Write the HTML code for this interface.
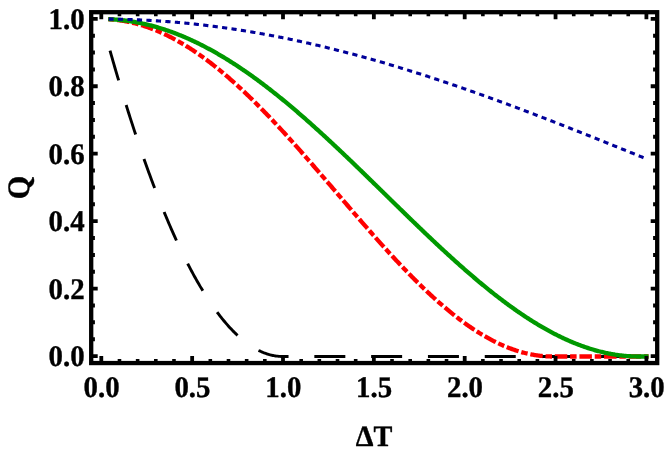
<!DOCTYPE html>
<html><head><meta charset="utf-8"><title>Chart</title>
<style>html,body{margin:0;padding:0;background:#fff;}body{width:664px;height:456px;overflow:hidden;font-family:"Liberation Serif",serif;}svg{display:block;will-change:transform}</style>
</head><body>
<svg width="664" height="456" viewBox="0 0 664 456">
<g fill="none">
<path d="M109.99,50.56 L110.38,51.95 L111.28,55.10 L112.17,58.22 L113.07,61.33 L113.96,64.43 L114.85,67.51 L115.75,70.57 L116.64,73.62 L117.53,76.65 L118.43,79.66 L119.32,82.66 L120.21,85.64 L121.11,88.60 L122.00,91.55 L122.89,94.49 L123.79,97.40 L124.68,100.30 L125.57,103.18 L126.47,106.05 L127.36,108.90 L128.25,111.74 L129.15,114.55 L130.04,117.35 L130.93,120.14 L131.83,122.91 L132.72,125.66 L133.61,128.40 L134.51,131.12 L135.40,133.82 L136.29,136.51 L137.19,139.18 L138.08,141.83 L138.97,144.47 L139.87,147.10 L140.76,149.70 L141.65,152.29 L142.55,154.86 L143.44,157.42 L144.33,159.96 L145.23,162.49 L146.12,164.99 L147.01,167.48 L147.91,169.96 L148.80,172.42 L149.69,174.86 L150.59,177.29 L151.48,179.70 L152.37,182.09 L153.27,184.47 L154.16,186.83 L155.05,189.18 L155.95,191.50 L156.84,193.82 L157.73,196.11 L158.63,198.39 L159.52,200.65 L160.41,202.90 L161.31,205.13 L162.20,207.35 L163.09,209.54 L163.99,211.73 L164.88,213.89 L165.77,216.04 L166.67,218.17 L167.56,220.29 L168.45,222.39 L169.35,224.47 L170.24,226.54 L171.13,228.59 L172.03,230.63 L172.92,232.64 L173.81,234.65 L174.71,236.63 L175.60,238.60 L176.49,240.56 L177.39,242.49 L178.28,244.41 L179.17,246.32 L180.07,248.20 L180.96,250.08 L181.85,251.93 L182.75,253.77 L183.64,255.59 L184.53,257.40 L185.43,259.19 L186.32,260.96 L187.21,262.72 L188.11,264.46 L189.00,266.19 L189.89,267.90 L190.79,269.59 L191.68,271.26 L192.57,272.92 L193.47,274.57 L194.36,276.19 L195.25,277.80 L196.15,279.40 L197.04,280.98 L197.93,282.54 L198.83,284.08 L199.72,285.61 L200.61,287.12 L201.51,288.62 L202.40,290.10 L203.29,291.57 L204.19,293.01 L205.08,294.44 L205.97,295.86 L206.87,297.26 L207.76,298.64 L208.65,300.01 L209.55,301.35 L210.44,302.69 L211.33,304.00 L212.23,305.31 L213.12,306.59 L214.01,307.86 L214.91,309.11 L215.80,310.34 L216.69,311.56 L217.59,312.77 L218.48,313.95 L219.37,315.12 L220.27,316.28 L221.16,317.41 L222.05,318.54 L222.95,319.64 L223.84,320.73 L224.73,321.80 L225.63,322.86 L226.52,323.90 L227.41,324.92 L228.31,325.93 L229.20,326.92 L230.10,327.89 L230.99,328.85 L231.88,329.79 L232.78,330.72 L233.67,331.63 L234.56,332.52 L235.46,333.39 L236.35,334.26 L237.24,335.10 L238.14,335.93 L239.03,336.74 L239.92,337.53 L240.82,338.31 L241.71,339.07 L242.60,339.82 L243.50,340.55 L244.39,341.26 L245.28,341.96 L246.18,342.64 L247.07,343.30 L247.96,343.95 L248.86,344.58 L249.75,345.20 L250.64,345.80 L251.54,346.38 L252.43,346.95 L253.32,347.50 L254.22,348.03 L255.11,348.55 L256.00,349.05 L256.90,349.53 L257.79,350.00 L258.68,350.46 L259.58,350.89 L260.47,351.31 L261.36,351.71 L262.26,352.10 L263.15,352.47 L264.04,352.83 L264.94,353.16 L265.83,353.49 L266.72,353.79 L267.62,354.08 L268.51,354.35 L269.40,354.61 L270.30,354.85 L271.19,355.07 L272.08,355.28 L272.98,355.47 L273.87,355.65 L274.76,355.81 L275.66,355.95 L276.55,356.07 L277.44,356.18 L278.34,356.28 L279.23,356.35 L280.12,356.42 L281.02,356.46 L281.91,356.49 L282.80,356.50 L283.70,356.50 L284.59,356.50 L285.48,356.50 L286.38,356.50 L287.27,356.50 L288.16,356.50 L289.06,356.50 L289.95,356.50 L290.84,356.50 L291.74,356.50 L292.63,356.50 L293.52,356.50 L294.42,356.50 L295.31,356.50 L296.20,356.50 L297.10,356.50 L297.99,356.50 L298.88,356.50 L299.78,356.50 L300.67,356.50 L301.56,356.50 L302.46,356.50 L303.35,356.50 L304.24,356.50 L305.14,356.50 L306.03,356.50 L306.92,356.50 L307.82,356.50 L308.71,356.50 L309.60,356.50 L310.50,356.50 L311.39,356.50 L312.28,356.50 L313.18,356.50 L314.07,356.50 L314.96,356.50 L315.86,356.50 L316.75,356.50 L317.64,356.50 L318.54,356.50 L319.43,356.50 L320.32,356.50 L321.22,356.50 L322.11,356.50 L323.00,356.50 L323.90,356.50 L324.79,356.50 L325.68,356.50 L326.58,356.50 L327.47,356.50 L328.36,356.50 L329.26,356.50 L330.15,356.50 L331.04,356.50 L331.94,356.50 L332.83,356.50 L333.72,356.50 L334.62,356.50 L335.51,356.50 L336.40,356.50 L337.30,356.50 L338.19,356.50 L339.08,356.50 L339.98,356.50 L340.87,356.50 L341.76,356.50 L342.66,356.50 L343.55,356.50 L344.44,356.50 L345.34,356.50 L346.23,356.50 L347.12,356.50 L348.02,356.50 L348.91,356.50 L349.81,356.50 L350.70,356.50 L351.59,356.50 L352.49,356.50 L353.38,356.50 L354.27,356.50 L355.17,356.50 L356.06,356.50 L356.95,356.50 L357.85,356.50 L358.74,356.50 L359.63,356.50 L360.53,356.50 L361.42,356.50 L362.31,356.50 L363.21,356.50 L364.10,356.50 L364.99,356.50 L365.89,356.50 L366.78,356.50 L367.67,356.50 L368.57,356.50 L369.46,356.50 L370.35,356.50 L371.25,356.50 L372.14,356.50 L373.03,356.50 L373.93,356.50 L374.82,356.50 L375.71,356.50 L376.61,356.50 L377.50,356.50 L378.39,356.50 L379.29,356.50 L380.18,356.50 L381.07,356.50 L381.97,356.50 L382.86,356.50 L383.75,356.50 L384.65,356.50 L385.54,356.50 L386.43,356.50 L387.33,356.50 L388.22,356.50 L389.11,356.50 L390.01,356.50 L390.90,356.50 L391.79,356.50 L392.69,356.50 L393.58,356.50 L394.47,356.50 L395.37,356.50 L396.26,356.50 L397.15,356.50 L398.05,356.50 L398.94,356.50 L399.83,356.50 L400.73,356.50 L401.62,356.50 L402.51,356.50 L403.41,356.50 L404.30,356.50 L405.19,356.50 L406.09,356.50 L406.98,356.50 L407.87,356.50 L408.77,356.50 L409.66,356.50 L410.55,356.50 L411.45,356.50 L412.34,356.50 L413.23,356.50 L414.13,356.50 L415.02,356.50 L415.91,356.50 L416.81,356.50 L417.70,356.50 L418.59,356.50 L419.49,356.50 L420.38,356.50 L421.27,356.50 L422.17,356.50 L423.06,356.50 L423.95,356.50 L424.85,356.50 L425.74,356.50 L426.63,356.50 L427.53,356.50 L428.42,356.50 L429.31,356.50 L430.21,356.50 L431.10,356.50 L431.99,356.50 L432.89,356.50 L433.78,356.50 L434.67,356.50 L435.57,356.50 L436.46,356.50 L437.35,356.50 L438.25,356.50 L439.14,356.50 L440.03,356.50 L440.93,356.50 L441.82,356.50 L442.71,356.50 L443.61,356.50 L444.50,356.50 L445.39,356.50 L446.29,356.50 L447.18,356.50 L448.07,356.50 L448.97,356.50 L449.86,356.50 L450.75,356.50 L451.65,356.50 L452.54,356.50 L453.43,356.50 L454.33,356.50 L455.22,356.50 L456.11,356.50 L457.01,356.50 L457.90,356.50 L458.79,356.50 L459.69,356.50 L460.58,356.50 L461.47,356.50 L462.37,356.50 L463.26,356.50 L464.15,356.50 L465.05,356.50 L465.94,356.50 L466.83,356.50 L467.73,356.50 L468.62,356.50 L469.52,356.50 L470.41,356.50 L471.30,356.50 L472.20,356.50 L473.09,356.50 L473.98,356.50 L474.88,356.50 L475.77,356.50 L476.66,356.50 L477.56,356.50 L478.45,356.50 L479.34,356.50 L480.24,356.50 L481.13,356.50 L482.02,356.50 L482.92,356.50 L483.81,356.50 L484.70,356.50 L485.60,356.50 L486.49,356.50 L487.38,356.50 L488.28,356.50 L489.17,356.50 L490.06,356.50 L490.96,356.50 L491.85,356.50 L492.74,356.50 L493.64,356.50 L494.53,356.50 L495.42,356.50 L496.32,356.50 L497.21,356.50 L498.10,356.50 L499.00,356.50 L499.89,356.50 L500.78,356.50 L501.68,356.50 L502.57,356.50 L503.46,356.50 L504.36,356.50 L505.25,356.50 L506.14,356.50 L507.04,356.50 L507.93,356.50 L508.82,356.50 L509.72,356.50 L510.61,356.50 L511.50,356.50 L512.40,356.50 L513.29,356.50 L514.18,356.50 L515.08,356.50 L515.97,356.50 L516.86,356.50 L517.76,356.50 L518.65,356.50 L519.54,356.50 L520.44,356.50 L521.33,356.50 L522.22,356.50 L523.12,356.50 L524.01,356.50 L524.90,356.50 L525.80,356.50 L526.69,356.50 L527.58,356.50 L528.48,356.50 L529.37,356.50 L530.26,356.50 L531.16,356.50 L532.05,356.50 L532.94,356.50 L533.84,356.50 L534.73,356.50 L535.62,356.50 L536.52,356.50 L537.41,356.50 L538.30,356.50 L539.20,356.50 L540.09,356.50 L540.98,356.50 L541.88,356.50 L542.77,356.50 L543.66,356.50 L544.56,356.50 L545.45,356.50 L546.34,356.50 L547.24,356.50 L548.13,356.50 L549.02,356.50 L549.92,356.50 L550.81,356.50 L551.70,356.50 L552.60,356.50 L553.49,356.50 L554.38,356.50 L555.28,356.50 L556.17,356.50 L557.06,356.50 L557.96,356.50 L558.85,356.50 L559.74,356.50 L560.64,356.50 L561.53,356.50 L562.42,356.50 L563.32,356.50 L564.21,356.50 L565.10,356.50 L566.00,356.50 L566.89,356.50 L567.78,356.50 L568.68,356.50 L569.57,356.50 L570.46,356.50 L571.36,356.50 L572.25,356.50 L573.14,356.50 L574.04,356.50 L574.93,356.50 L575.82,356.50 L576.72,356.50 L577.61,356.50 L578.50,356.50 L579.40,356.50 L580.29,356.50 L581.18,356.50 L582.08,356.50 L582.97,356.50 L583.86,356.50 L584.76,356.50 L585.65,356.50 L586.54,356.50 L587.44,356.50 L588.33,356.50 L589.23,356.50 L590.12,356.50 L591.01,356.50 L591.91,356.50 L592.80,356.50 L593.69,356.50 L594.59,356.50 L595.48,356.50 L596.37,356.50 L597.27,356.50 L598.16,356.50 L599.05,356.50 L599.95,356.50 L600.84,356.50 L601.73,356.50 L602.63,356.50 L603.52,356.50 L604.41,356.50 L605.31,356.50 L606.20,356.50 L607.09,356.50 L607.99,356.50 L608.88,356.50 L609.77,356.50 L610.67,356.50 L611.56,356.50 L612.45,356.50 L613.35,356.50 L614.24,356.50 L615.13,356.50 L616.03,356.50 L616.92,356.50 L617.81,356.50 L618.71,356.50 L619.60,356.50 L620.49,356.50 L621.39,356.50 L622.28,356.50 L623.17,356.50 L624.07,356.50 L624.96,356.50 L625.85,356.50 L626.75,356.50 L627.64,356.50 L628.53,356.50 L629.43,356.50 L630.32,356.50 L631.21,356.50 L632.11,356.50 L633.00,356.50 L633.89,356.50 L634.79,356.50 L635.68,356.50 L636.57,356.50 L637.47,356.50 L638.36,356.50 L639.25,356.50 L640.15,356.50 L641.04,356.50 L641.93,356.50 L642.83,356.50 L643.72,356.50 L644.61,356.50 L645.51,356.50 L646.40,356.50 L647.85,356.50" stroke="#000" stroke-width="2.9" stroke-dasharray="31 25.8" stroke-dashoffset="0"/>
<path d="M108.24,19.21 L110.38,19.37 L111.28,19.43 L112.17,19.50 L113.07,19.58 L113.96,19.66 L114.85,19.75 L115.75,19.85 L116.64,19.95 L117.53,20.06 L118.43,20.17 L119.32,20.29 L120.21,20.42 L121.11,20.55 L122.00,20.69 L122.89,20.83 L123.79,20.98 L124.68,21.14 L125.57,21.30 L126.47,21.47 L127.36,21.65 L128.25,21.83 L129.15,22.01 L130.04,22.21 L130.93,22.40 L131.83,22.61 L132.72,22.82 L133.61,23.04 L134.51,23.26 L135.40,23.49 L136.29,23.72 L137.19,23.96 L138.08,24.21 L138.97,24.46 L139.87,24.72 L140.76,24.98 L141.65,25.25 L142.55,25.53 L143.44,25.81 L144.33,26.10 L145.23,26.39 L146.12,26.69 L147.01,27.00 L147.91,27.31 L148.80,27.63 L149.69,27.95 L150.59,28.28 L151.48,28.61 L152.37,28.95 L153.27,29.30 L154.16,29.65 L155.05,30.01 L155.95,30.37 L156.84,30.74 L157.73,31.12 L158.63,31.50 L159.52,31.89 L160.41,32.28 L161.31,32.68 L162.20,33.08 L163.09,33.49 L163.99,33.90 L164.88,34.32 L165.77,34.75 L166.67,35.18 L167.56,35.62 L168.45,36.06 L169.35,36.51 L170.24,36.96 L171.13,37.42 L172.03,37.89 L172.92,38.36 L173.81,38.83 L174.71,39.31 L175.60,39.80 L176.49,40.29 L177.39,40.79 L178.28,41.29 L179.17,41.80 L180.07,42.31 L180.96,42.83 L181.85,43.36 L182.75,43.89 L183.64,44.42 L184.53,44.96 L185.43,45.51 L186.32,46.06 L187.21,46.61 L188.11,47.18 L189.00,47.74 L189.89,48.31 L190.79,48.89 L191.68,49.47 L192.57,50.06 L193.47,50.65 L194.36,51.25 L195.25,51.85 L196.15,52.46 L197.04,53.07 L197.93,53.68 L198.83,54.31 L199.72,54.93 L200.61,55.56 L201.51,56.20 L202.40,56.84 L203.29,57.49 L204.19,58.14 L205.08,58.80 L205.97,59.46 L206.87,60.12 L207.76,60.79 L208.65,61.47 L209.55,62.15 L210.44,62.83 L211.33,63.52 L212.23,64.21 L213.12,64.91 L214.01,65.61 L214.91,66.32 L215.80,67.03 L216.69,67.75 L217.59,68.47 L218.48,69.20 L219.37,69.93 L220.27,70.66 L221.16,71.40 L222.05,72.14 L222.95,72.89 L223.84,73.64 L224.73,74.40 L225.63,75.16 L226.52,75.92 L227.41,76.69 L228.31,77.46 L229.20,78.24 L230.10,79.02 L230.99,79.80 L231.88,80.59 L232.78,81.39 L233.67,82.18 L234.56,82.98 L235.46,83.79 L236.35,84.60 L237.24,85.41 L238.14,86.23 L239.03,87.05 L239.92,87.87 L240.82,88.70 L241.71,89.53 L242.60,90.37 L243.50,91.21 L244.39,92.05 L245.28,92.90 L246.18,93.75 L247.07,94.60 L247.96,95.46 L248.86,96.32 L249.75,97.18 L250.64,98.05 L251.54,98.92 L252.43,99.80 L253.32,100.68 L254.22,101.56 L255.11,102.44 L256.00,103.33 L256.90,104.22 L257.79,105.12 L258.68,106.01 L259.58,106.92 L260.47,107.82 L261.36,108.73 L262.26,109.64 L263.15,110.55 L264.04,111.47 L264.94,112.39 L265.83,113.31 L266.72,114.23 L267.62,115.16 L268.51,116.09 L269.40,117.02 L270.30,117.96 L271.19,118.90 L272.08,119.84 L272.98,120.79 L273.87,121.73 L274.76,122.68 L275.66,123.63 L276.55,124.59 L277.44,125.55 L278.34,126.51 L279.23,127.47 L280.12,128.43 L281.02,129.40 L281.91,130.37 L282.80,131.34 L283.70,132.32 L284.59,133.29 L285.48,134.27 L286.38,135.25 L287.27,136.23 L288.16,137.22 L289.06,138.20 L289.95,139.19 L290.84,140.18 L291.74,141.18 L292.63,142.17 L293.52,143.17 L294.42,144.17 L295.31,145.17 L296.20,146.17 L297.10,147.17 L297.99,148.18 L298.88,149.18 L299.78,150.19 L300.67,151.20 L301.56,152.21 L302.46,153.23 L303.35,154.24 L304.24,155.26 L305.14,156.27 L306.03,157.29 L306.92,158.31 L307.82,159.34 L308.71,160.36 L309.60,161.38 L310.50,162.41 L311.39,163.43 L312.28,164.46 L313.18,165.49 L314.07,166.52 L314.96,167.55 L315.86,168.58 L316.75,169.61 L317.64,170.65 L318.54,171.68 L319.43,172.72 L320.32,173.75 L321.22,174.79 L322.11,175.82 L323.00,176.86 L323.90,177.90 L324.79,178.94 L325.68,179.98 L326.58,181.02 L327.47,182.06 L328.36,183.10 L329.26,184.14 L330.15,185.18 L331.04,186.22 L331.94,187.27 L332.83,188.31 L333.72,189.35 L334.62,190.39 L335.51,191.44 L336.40,192.48 L337.30,193.52 L338.19,194.56 L339.08,195.61 L339.98,196.65 L340.87,197.69 L341.76,198.74 L342.66,199.78 L343.55,200.82 L344.44,201.86 L345.34,202.90 L346.23,203.94 L347.12,204.98 L348.02,206.02 L348.91,207.06 L349.81,208.10 L350.70,209.14 L351.59,210.18 L352.49,211.22 L353.38,212.25 L354.27,213.29 L355.17,214.32 L356.06,215.36 L356.95,216.39 L357.85,217.42 L358.74,218.46 L359.63,219.49 L360.53,220.52 L361.42,221.55 L362.31,222.57 L363.21,223.60 L364.10,224.62 L364.99,225.65 L365.89,226.67 L366.78,227.69 L367.67,228.71 L368.57,229.73 L369.46,230.75 L370.35,231.77 L371.25,232.78 L372.14,233.79 L373.03,234.81 L373.93,235.82 L374.82,236.82 L375.71,237.83 L376.61,238.84 L377.50,239.84 L378.39,240.84 L379.29,241.84 L380.18,242.84 L381.07,243.83 L381.97,244.83 L382.86,245.82 L383.75,246.81 L384.65,247.80 L385.54,248.78 L386.43,249.76 L387.33,250.75 L388.22,251.72 L389.11,252.70 L390.01,253.68 L390.90,254.65 L391.79,255.62 L392.69,256.58 L393.58,257.55 L394.47,258.51 L395.37,259.47 L396.26,260.43 L397.15,261.38 L398.05,262.33 L398.94,263.28 L399.83,264.23 L400.73,265.17 L401.62,266.11 L402.51,267.05 L403.41,267.99 L404.30,268.92 L405.19,269.85 L406.09,270.77 L406.98,271.70 L407.87,272.62 L408.77,273.53 L409.66,274.45 L410.55,275.36 L411.45,276.26 L412.34,277.17 L413.23,278.07 L414.13,278.97 L415.02,279.86 L415.91,280.75 L416.81,281.64 L417.70,282.52 L418.59,283.40 L419.49,284.28 L420.38,285.15 L421.27,286.02 L422.17,286.88 L423.06,287.75 L423.95,288.60 L424.85,289.46 L425.74,290.31 L426.63,291.15 L427.53,292.00 L428.42,292.83 L429.31,293.67 L430.21,294.50 L431.10,295.33 L431.99,296.15 L432.89,296.97 L433.78,297.78 L434.67,298.59 L435.57,299.39 L436.46,300.20 L437.35,300.99 L438.25,301.79 L439.14,302.57 L440.03,303.36 L440.93,304.14 L441.82,304.91 L442.71,305.68 L443.61,306.45 L444.50,307.21 L445.39,307.96 L446.29,308.72 L447.18,309.46 L448.07,310.21 L448.97,310.94 L449.86,311.68 L450.75,312.40 L451.65,313.13 L452.54,313.85 L453.43,314.56 L454.33,315.27 L455.22,315.97 L456.11,316.67 L457.01,317.36 L457.90,318.05 L458.79,318.73 L459.69,319.41 L460.58,320.08 L461.47,320.75 L462.37,321.41 L463.26,322.07 L464.15,322.72 L465.05,323.37 L465.94,324.01 L466.83,324.65 L467.73,325.28 L468.62,325.90 L469.52,326.52 L470.41,327.13 L471.30,327.74 L472.20,328.34 L473.09,328.94 L473.98,329.53 L474.88,330.12 L475.77,330.70 L476.66,331.27 L477.56,331.84 L478.45,332.40 L479.34,332.96 L480.24,333.51 L481.13,334.05 L482.02,334.59 L482.92,335.12 L483.81,335.65 L484.70,336.17 L485.60,336.69 L486.49,337.20 L487.38,337.70 L488.28,338.20 L489.17,338.69 L490.06,339.17 L490.96,339.65 L491.85,340.12 L492.74,340.59 L493.64,341.05 L494.53,341.50 L495.42,341.95 L496.32,342.39 L497.21,342.82 L498.10,343.25 L499.00,343.67 L499.89,344.09 L500.78,344.50 L501.68,344.90 L502.57,345.30 L503.46,345.69 L504.36,346.07 L505.25,346.44 L506.14,346.81 L507.04,347.18 L507.93,347.53 L508.82,347.88 L509.72,348.23 L510.61,348.56 L511.50,348.89 L512.40,349.22 L513.29,349.53 L514.18,349.84 L515.08,350.14 L515.97,350.44 L516.86,350.73 L517.76,351.01 L518.65,351.29 L519.54,351.56 L520.44,351.82 L521.33,352.07 L522.22,352.32 L523.12,352.56 L524.01,352.79 L524.90,353.02 L525.80,353.24 L526.69,353.45 L527.58,353.66 L528.48,353.86 L529.37,354.05 L530.26,354.23 L531.16,354.41 L532.05,354.58 L532.94,354.74 L533.84,354.90 L534.73,355.05 L535.62,355.19 L536.52,355.32 L537.41,355.45 L538.30,355.57 L539.20,355.68 L540.09,355.79 L540.98,355.89 L541.88,355.98 L542.77,356.06 L543.66,356.14 L544.56,356.21 L545.45,356.27 L546.34,356.32 L547.24,356.37 L548.13,356.41 L549.02,356.44 L549.92,356.47 L550.81,356.49 L551.70,356.50 L552.60,356.50 L553.49,356.50 L554.38,356.50 L555.28,356.50 L556.17,356.50 L557.06,356.50 L557.96,356.50 L558.85,356.50 L559.74,356.50 L560.64,356.50 L561.53,356.50 L562.42,356.50 L563.32,356.50 L564.21,356.50 L565.10,356.50 L566.00,356.50 L566.89,356.50 L567.78,356.50 L568.68,356.50 L569.57,356.50 L570.46,356.50 L571.36,356.50 L572.25,356.50 L573.14,356.50 L574.04,356.50 L574.93,356.50 L575.82,356.50 L576.72,356.50 L577.61,356.50 L578.50,356.50 L579.40,356.50 L580.29,356.50 L581.18,356.50 L582.08,356.50 L582.97,356.50 L583.86,356.50 L584.76,356.50 L585.65,356.50 L586.54,356.50 L587.44,356.50 L588.33,356.50 L589.23,356.50 L590.12,356.50 L591.01,356.50 L591.91,356.50 L592.80,356.50 L593.69,356.50 L594.59,356.50 L595.48,356.50 L596.37,356.50 L597.27,356.50 L598.16,356.50 L599.05,356.50 L599.95,356.50 L600.84,356.50 L601.73,356.50 L602.63,356.50 L603.52,356.50 L604.41,356.50 L605.31,356.50 L606.20,356.50 L607.09,356.50 L607.99,356.50 L608.88,356.50 L609.77,356.50 L610.67,356.50 L611.56,356.50 L612.45,356.50 L613.35,356.50 L614.24,356.50 L615.13,356.50 L616.03,356.50 L616.92,356.50 L617.81,356.50 L618.71,356.50 L619.60,356.50 L620.49,356.50 L621.39,356.50 L622.28,356.50 L623.17,356.50 L624.07,356.50 L624.96,356.50 L625.85,356.50 L626.75,356.50 L627.64,356.50 L628.53,356.50 L629.43,356.50 L630.32,356.50 L631.21,356.50 L632.11,356.50 L633.00,356.50 L633.89,356.50 L634.79,356.50 L635.68,356.50 L636.57,356.50 L637.47,356.50 L638.36,356.50 L639.25,356.50 L640.15,356.50 L641.04,356.50 L641.93,356.50 L642.83,356.50 L643.72,356.50 L644.61,356.50 L645.51,356.50 L646.40,356.50 L648.55,356.50" stroke="#f00" stroke-width="4.3" stroke-dasharray="12.5 2.81 6.5 2.81" stroke-dashoffset="15.63"/>
<path d="M108.24,19.16 L110.38,19.27 L111.28,19.31 L112.17,19.36 L113.07,19.42 L113.96,19.47 L114.85,19.54 L115.75,19.60 L116.64,19.67 L117.53,19.75 L118.43,19.83 L119.32,19.91 L120.21,20.00 L121.11,20.09 L122.00,20.18 L122.89,20.28 L123.79,20.39 L124.68,20.50 L125.57,20.61 L126.47,20.72 L127.36,20.85 L128.25,20.97 L129.15,21.10 L130.04,21.23 L130.93,21.37 L131.83,21.51 L132.72,21.66 L133.61,21.81 L134.51,21.96 L135.40,22.12 L136.29,22.28 L137.19,22.45 L138.08,22.62 L138.97,22.80 L139.87,22.98 L140.76,23.16 L141.65,23.35 L142.55,23.54 L143.44,23.73 L144.33,23.93 L145.23,24.14 L146.12,24.34 L147.01,24.56 L147.91,24.77 L148.80,24.99 L149.69,25.22 L150.59,25.45 L151.48,25.68 L152.37,25.92 L153.27,26.16 L154.16,26.40 L155.05,26.65 L155.95,26.90 L156.84,27.16 L157.73,27.42 L158.63,27.69 L159.52,27.96 L160.41,28.23 L161.31,28.51 L162.20,28.79 L163.09,29.07 L163.99,29.36 L164.88,29.65 L165.77,29.95 L166.67,30.25 L167.56,30.56 L168.45,30.87 L169.35,31.18 L170.24,31.50 L171.13,31.82 L172.03,32.14 L172.92,32.47 L173.81,32.81 L174.71,33.14 L175.60,33.48 L176.49,33.83 L177.39,34.18 L178.28,34.53 L179.17,34.88 L180.07,35.24 L180.96,35.61 L181.85,35.98 L182.75,36.35 L183.64,36.72 L184.53,37.10 L185.43,37.49 L186.32,37.87 L187.21,38.26 L188.11,38.66 L189.00,39.06 L189.89,39.46 L190.79,39.86 L191.68,40.27 L192.57,40.69 L193.47,41.10 L194.36,41.53 L195.25,41.95 L196.15,42.38 L197.04,42.81 L197.93,43.25 L198.83,43.69 L199.72,44.13 L200.61,44.58 L201.51,45.03 L202.40,45.48 L203.29,45.94 L204.19,46.40 L205.08,46.86 L205.97,47.33 L206.87,47.80 L207.76,48.28 L208.65,48.76 L209.55,49.24 L210.44,49.73 L211.33,50.22 L212.23,50.71 L213.12,51.21 L214.01,51.71 L214.91,52.21 L215.80,52.72 L216.69,53.23 L217.59,53.75 L218.48,54.26 L219.37,54.79 L220.27,55.31 L221.16,55.84 L222.05,56.37 L222.95,56.90 L223.84,57.44 L224.73,57.98 L225.63,58.53 L226.52,59.08 L227.41,59.63 L228.31,60.18 L229.20,60.74 L230.10,61.30 L230.99,61.87 L231.88,62.44 L232.78,63.01 L233.67,63.58 L234.56,64.16 L235.46,64.74 L236.35,65.33 L237.24,65.91 L238.14,66.50 L239.03,67.10 L239.92,67.69 L240.82,68.29 L241.71,68.90 L242.60,69.50 L243.50,70.11 L244.39,70.72 L245.28,71.34 L246.18,71.96 L247.07,72.58 L247.96,73.20 L248.86,73.83 L249.75,74.46 L250.64,75.10 L251.54,75.73 L252.43,76.37 L253.32,77.01 L254.22,77.66 L255.11,78.31 L256.00,78.96 L256.90,79.61 L257.79,80.27 L258.68,80.93 L259.58,81.59 L260.47,82.25 L261.36,82.92 L262.26,83.59 L263.15,84.27 L264.04,84.94 L264.94,85.62 L265.83,86.30 L266.72,86.99 L267.62,87.67 L268.51,88.36 L269.40,89.06 L270.30,89.75 L271.19,90.45 L272.08,91.15 L272.98,91.85 L273.87,92.56 L274.76,93.26 L275.66,93.97 L276.55,94.69 L277.44,95.40 L278.34,96.12 L279.23,96.84 L280.12,97.56 L281.02,98.29 L281.91,99.02 L282.80,99.75 L283.70,100.48 L284.59,101.21 L285.48,101.95 L286.38,102.69 L287.27,103.43 L288.16,104.18 L289.06,104.92 L289.95,105.67 L290.84,106.42 L291.74,107.17 L292.63,107.93 L293.52,108.69 L294.42,109.45 L295.31,110.21 L296.20,110.97 L297.10,111.74 L297.99,112.50 L298.88,113.27 L299.78,114.05 L300.67,114.82 L301.56,115.60 L302.46,116.37 L303.35,117.15 L304.24,117.94 L305.14,118.72 L306.03,119.51 L306.92,120.29 L307.82,121.08 L308.71,121.88 L309.60,122.67 L310.50,123.46 L311.39,124.26 L312.28,125.06 L313.18,125.86 L314.07,126.66 L314.96,127.47 L315.86,128.27 L316.75,129.08 L317.64,129.89 L318.54,130.70 L319.43,131.51 L320.32,132.33 L321.22,133.14 L322.11,133.96 L323.00,134.78 L323.90,135.60 L324.79,136.42 L325.68,137.24 L326.58,138.07 L327.47,138.89 L328.36,139.72 L329.26,140.55 L330.15,141.38 L331.04,142.21 L331.94,143.05 L332.83,143.88 L333.72,144.72 L334.62,145.55 L335.51,146.39 L336.40,147.23 L337.30,148.07 L338.19,148.91 L339.08,149.76 L339.98,150.60 L340.87,151.45 L341.76,152.29 L342.66,153.14 L343.55,153.99 L344.44,154.84 L345.34,155.69 L346.23,156.54 L347.12,157.39 L348.02,158.25 L348.91,159.10 L349.81,159.96 L350.70,160.82 L351.59,161.67 L352.49,162.53 L353.38,163.39 L354.27,164.25 L355.17,165.11 L356.06,165.97 L356.95,166.83 L357.85,167.70 L358.74,168.56 L359.63,169.43 L360.53,170.29 L361.42,171.16 L362.31,172.02 L363.21,172.89 L364.10,173.76 L364.99,174.62 L365.89,175.49 L366.78,176.36 L367.67,177.23 L368.57,178.10 L369.46,178.97 L370.35,179.84 L371.25,180.71 L372.14,181.59 L373.03,182.46 L373.93,183.33 L374.82,184.20 L375.71,185.08 L376.61,185.95 L377.50,186.82 L378.39,187.70 L379.29,188.57 L380.18,189.44 L381.07,190.32 L381.97,191.19 L382.86,192.07 L383.75,192.94 L384.65,193.81 L385.54,194.69 L386.43,195.56 L387.33,196.44 L388.22,197.31 L389.11,198.19 L390.01,199.06 L390.90,199.93 L391.79,200.81 L392.69,201.68 L393.58,202.56 L394.47,203.43 L395.37,204.30 L396.26,205.18 L397.15,206.05 L398.05,206.92 L398.94,207.79 L399.83,208.67 L400.73,209.54 L401.62,210.41 L402.51,211.28 L403.41,212.15 L404.30,213.02 L405.19,213.89 L406.09,214.76 L406.98,215.62 L407.87,216.49 L408.77,217.36 L409.66,218.23 L410.55,219.09 L411.45,219.96 L412.34,220.82 L413.23,221.68 L414.13,222.55 L415.02,223.41 L415.91,224.27 L416.81,225.13 L417.70,225.99 L418.59,226.85 L419.49,227.71 L420.38,228.57 L421.27,229.42 L422.17,230.28 L423.06,231.13 L423.95,231.99 L424.85,232.84 L425.74,233.69 L426.63,234.54 L427.53,235.39 L428.42,236.24 L429.31,237.09 L430.21,237.93 L431.10,238.78 L431.99,239.62 L432.89,240.47 L433.78,241.31 L434.67,242.15 L435.57,242.99 L436.46,243.82 L437.35,244.66 L438.25,245.49 L439.14,246.33 L440.03,247.16 L440.93,247.99 L441.82,248.82 L442.71,249.65 L443.61,250.47 L444.50,251.30 L445.39,252.12 L446.29,252.94 L447.18,253.76 L448.07,254.58 L448.97,255.40 L449.86,256.21 L450.75,257.02 L451.65,257.84 L452.54,258.65 L453.43,259.45 L454.33,260.26 L455.22,261.06 L456.11,261.87 L457.01,262.67 L457.90,263.47 L458.79,264.26 L459.69,265.06 L460.58,265.85 L461.47,266.64 L462.37,267.43 L463.26,268.22 L464.15,269.00 L465.05,269.79 L465.94,270.57 L466.83,271.35 L467.73,272.12 L468.62,272.90 L469.52,273.67 L470.41,274.44 L471.30,275.21 L472.20,275.97 L473.09,276.74 L473.98,277.50 L474.88,278.26 L475.77,279.01 L476.66,279.77 L477.56,280.52 L478.45,281.27 L479.34,282.02 L480.24,282.76 L481.13,283.50 L482.02,284.24 L482.92,284.98 L483.81,285.71 L484.70,286.44 L485.60,287.17 L486.49,287.90 L487.38,288.62 L488.28,289.34 L489.17,290.06 L490.06,290.78 L490.96,291.49 L491.85,292.20 L492.74,292.91 L493.64,293.61 L494.53,294.32 L495.42,295.01 L496.32,295.71 L497.21,296.40 L498.10,297.09 L499.00,297.78 L499.89,298.47 L500.78,299.15 L501.68,299.83 L502.57,300.50 L503.46,301.17 L504.36,301.84 L505.25,302.51 L506.14,303.17 L507.04,303.83 L507.93,304.49 L508.82,305.14 L509.72,305.79 L510.61,306.44 L511.50,307.08 L512.40,307.72 L513.29,308.36 L514.18,309.00 L515.08,309.63 L515.97,310.25 L516.86,310.88 L517.76,311.50 L518.65,312.12 L519.54,312.73 L520.44,313.34 L521.33,313.95 L522.22,314.55 L523.12,315.15 L524.01,315.75 L524.90,316.34 L525.80,316.93 L526.69,317.51 L527.58,318.10 L528.48,318.68 L529.37,319.25 L530.26,319.82 L531.16,320.39 L532.05,320.95 L532.94,321.51 L533.84,322.07 L534.73,322.62 L535.62,323.17 L536.52,323.71 L537.41,324.25 L538.30,324.79 L539.20,325.33 L540.09,325.85 L540.98,326.38 L541.88,326.90 L542.77,327.42 L543.66,327.93 L544.56,328.44 L545.45,328.95 L546.34,329.45 L547.24,329.95 L548.13,330.44 L549.02,330.93 L549.92,331.41 L550.81,331.90 L551.70,332.37 L552.60,332.85 L553.49,333.31 L554.38,333.78 L555.28,334.24 L556.17,334.69 L557.06,335.15 L557.96,335.59 L558.85,336.04 L559.74,336.48 L560.64,336.91 L561.53,337.34 L562.42,337.77 L563.32,338.19 L564.21,338.61 L565.10,339.02 L566.00,339.43 L566.89,339.83 L567.78,340.23 L568.68,340.63 L569.57,341.02 L570.46,341.40 L571.36,341.78 L572.25,342.16 L573.14,342.53 L574.04,342.90 L574.93,343.26 L575.82,343.62 L576.72,343.98 L577.61,344.33 L578.50,344.67 L579.40,345.01 L580.29,345.35 L581.18,345.68 L582.08,346.00 L582.97,346.32 L583.86,346.64 L584.76,346.95 L585.65,347.26 L586.54,347.56 L587.44,347.86 L588.33,348.15 L589.23,348.44 L590.12,348.72 L591.01,349.00 L591.91,349.28 L592.80,349.54 L593.69,349.81 L594.59,350.07 L595.48,350.32 L596.37,350.57 L597.27,350.81 L598.16,351.05 L599.05,351.29 L599.95,351.51 L600.84,351.74 L601.73,351.96 L602.63,352.17 L603.52,352.38 L604.41,352.58 L605.31,352.78 L606.20,352.98 L607.09,353.17 L607.99,353.35 L608.88,353.53 L609.77,353.70 L610.67,353.87 L611.56,354.03 L612.45,354.19 L613.35,354.35 L614.24,354.49 L615.13,354.64 L616.03,354.77 L616.92,354.91 L617.81,355.03 L618.71,355.15 L619.60,355.27 L620.49,355.38 L621.39,355.49 L622.28,355.59 L623.17,355.69 L624.07,355.78 L624.96,355.86 L625.85,355.94 L626.75,356.02 L627.64,356.08 L628.53,356.15 L629.43,356.21 L630.32,356.26 L631.21,356.31 L632.11,356.35 L633.00,356.39 L633.89,356.42 L634.79,356.45 L635.68,356.47 L636.57,356.48 L637.47,356.49 L638.36,356.50 L639.25,356.50 L640.15,356.50 L641.04,356.50 L641.93,356.50 L642.83,356.50 L643.72,356.50 L644.61,356.50 L645.51,356.50 L646.40,356.50 L648.55,356.50" stroke="#009900" stroke-width="4.3"/>
<path d="M108.79,19.08 L110.38,19.10 L111.28,19.11 L112.17,19.12 L113.07,19.13 L113.96,19.14 L114.85,19.16 L115.75,19.17 L116.64,19.19 L117.53,19.20 L118.43,19.22 L119.32,19.24 L120.21,19.26 L121.11,19.28 L122.00,19.30 L122.89,19.32 L123.79,19.34 L124.68,19.37 L125.57,19.39 L126.47,19.42 L127.36,19.44 L128.25,19.47 L129.15,19.50 L130.04,19.53 L130.93,19.56 L131.83,19.59 L132.72,19.62 L133.61,19.66 L134.51,19.69 L135.40,19.73 L136.29,19.76 L137.19,19.80 L138.08,19.84 L138.97,19.87 L139.87,19.91 L140.76,19.95 L141.65,20.00 L142.55,20.04 L143.44,20.08 L144.33,20.13 L145.23,20.17 L146.12,20.22 L147.01,20.26 L147.91,20.31 L148.80,20.36 L149.69,20.41 L150.59,20.46 L151.48,20.51 L152.37,20.56 L153.27,20.62 L154.16,20.67 L155.05,20.73 L155.95,20.78 L156.84,20.84 L157.73,20.90 L158.63,20.96 L159.52,21.02 L160.41,21.08 L161.31,21.14 L162.20,21.20 L163.09,21.26 L163.99,21.33 L164.88,21.39 L165.77,21.46 L166.67,21.53 L167.56,21.59 L168.45,21.66 L169.35,21.73 L170.24,21.80 L171.13,21.88 L172.03,21.95 L172.92,22.02 L173.81,22.10 L174.71,22.17 L175.60,22.25 L176.49,22.32 L177.39,22.40 L178.28,22.48 L179.17,22.56 L180.07,22.64 L180.96,22.72 L181.85,22.80 L182.75,22.89 L183.64,22.97 L184.53,23.06 L185.43,23.14 L186.32,23.23 L187.21,23.32 L188.11,23.41 L189.00,23.50 L189.89,23.59 L190.79,23.68 L191.68,23.77 L192.57,23.86 L193.47,23.96 L194.36,24.05 L195.25,24.15 L196.15,24.25 L197.04,24.34 L197.93,24.44 L198.83,24.54 L199.72,24.64 L200.61,24.74 L201.51,24.85 L202.40,24.95 L203.29,25.05 L204.19,25.16 L205.08,25.26 L205.97,25.37 L206.87,25.48 L207.76,25.59 L208.65,25.69 L209.55,25.80 L210.44,25.92 L211.33,26.03 L212.23,26.14 L213.12,26.25 L214.01,26.37 L214.91,26.48 L215.80,26.60 L216.69,26.72 L217.59,26.84 L218.48,26.95 L219.37,27.07 L220.27,27.19 L221.16,27.32 L222.05,27.44 L222.95,27.56 L223.84,27.69 L224.73,27.81 L225.63,27.94 L226.52,28.06 L227.41,28.19 L228.31,28.32 L229.20,28.45 L230.10,28.58 L230.99,28.71 L231.88,28.84 L232.78,28.97 L233.67,29.11 L234.56,29.24 L235.46,29.38 L236.35,29.51 L237.24,29.65 L238.14,29.79 L239.03,29.93 L239.92,30.07 L240.82,30.21 L241.71,30.35 L242.60,30.49 L243.50,30.63 L244.39,30.78 L245.28,30.92 L246.18,31.07 L247.07,31.21 L247.96,31.36 L248.86,31.51 L249.75,31.66 L250.64,31.81 L251.54,31.96 L252.43,32.11 L253.32,32.26 L254.22,32.42 L255.11,32.57 L256.00,32.73 L256.90,32.88 L257.79,33.04 L258.68,33.19 L259.58,33.35 L260.47,33.51 L261.36,33.67 L262.26,33.83 L263.15,33.99 L264.04,34.16 L264.94,34.32 L265.83,34.48 L266.72,34.65 L267.62,34.81 L268.51,34.98 L269.40,35.15 L270.30,35.31 L271.19,35.48 L272.08,35.65 L272.98,35.82 L273.87,35.99 L274.76,36.17 L275.66,36.34 L276.55,36.51 L277.44,36.69 L278.34,36.86 L279.23,37.04 L280.12,37.22 L281.02,37.39 L281.91,37.57 L282.80,37.75 L283.70,37.93 L284.59,38.11 L285.48,38.29 L286.38,38.48 L287.27,38.66 L288.16,38.84 L289.06,39.03 L289.95,39.21 L290.84,39.40 L291.74,39.59 L292.63,39.78 L293.52,39.96 L294.42,40.15 L295.31,40.34 L296.20,40.54 L297.10,40.73 L297.99,40.92 L298.88,41.11 L299.78,41.31 L300.67,41.50 L301.56,41.70 L302.46,41.90 L303.35,42.09 L304.24,42.29 L305.14,42.49 L306.03,42.69 L306.92,42.89 L307.82,43.09 L308.71,43.29 L309.60,43.50 L310.50,43.70 L311.39,43.90 L312.28,44.11 L313.18,44.32 L314.07,44.52 L314.96,44.73 L315.86,44.94 L316.75,45.15 L317.64,45.36 L318.54,45.57 L319.43,45.78 L320.32,45.99 L321.22,46.20 L322.11,46.41 L323.00,46.63 L323.90,46.84 L324.79,47.06 L325.68,47.27 L326.58,47.49 L327.47,47.71 L328.36,47.93 L329.26,48.15 L330.15,48.37 L331.04,48.59 L331.94,48.81 L332.83,49.03 L333.72,49.25 L334.62,49.48 L335.51,49.70 L336.40,49.93 L337.30,50.15 L338.19,50.38 L339.08,50.60 L339.98,50.83 L340.87,51.06 L341.76,51.29 L342.66,51.52 L343.55,51.75 L344.44,51.98 L345.34,52.21 L346.23,52.45 L347.12,52.68 L348.02,52.91 L348.91,53.15 L349.81,53.39 L350.70,53.62 L351.59,53.86 L352.49,54.10 L353.38,54.33 L354.27,54.57 L355.17,54.81 L356.06,55.05 L356.95,55.29 L357.85,55.54 L358.74,55.78 L359.63,56.02 L360.53,56.27 L361.42,56.51 L362.31,56.75 L363.21,57.00 L364.10,57.25 L364.99,57.49 L365.89,57.74 L366.78,57.99 L367.67,58.24 L368.57,58.49 L369.46,58.74 L370.35,58.99 L371.25,59.24 L372.14,59.49 L373.03,59.75 L373.93,60.00 L374.82,60.26 L375.71,60.51 L376.61,60.77 L377.50,61.02 L378.39,61.28 L379.29,61.54 L380.18,61.80 L381.07,62.05 L381.97,62.31 L382.86,62.57 L383.75,62.83 L384.65,63.10 L385.54,63.36 L386.43,63.62 L387.33,63.88 L388.22,64.15 L389.11,64.41 L390.01,64.68 L390.90,64.94 L391.79,65.21 L392.69,65.48 L393.58,65.74 L394.47,66.01 L395.37,66.28 L396.26,66.55 L397.15,66.82 L398.05,67.09 L398.94,67.36 L399.83,67.64 L400.73,67.91 L401.62,68.18 L402.51,68.45 L403.41,68.73 L404.30,69.00 L405.19,69.28 L406.09,69.55 L406.98,69.83 L407.87,70.11 L408.77,70.39 L409.66,70.66 L410.55,70.94 L411.45,71.22 L412.34,71.50 L413.23,71.78 L414.13,72.07 L415.02,72.35 L415.91,72.63 L416.81,72.91 L417.70,73.20 L418.59,73.48 L419.49,73.77 L420.38,74.05 L421.27,74.34 L422.17,74.62 L423.06,74.91 L423.95,75.20 L424.85,75.48 L425.74,75.77 L426.63,76.06 L427.53,76.35 L428.42,76.64 L429.31,76.93 L430.21,77.22 L431.10,77.52 L431.99,77.81 L432.89,78.10 L433.78,78.39 L434.67,78.69 L435.57,78.98 L436.46,79.28 L437.35,79.57 L438.25,79.87 L439.14,80.17 L440.03,80.46 L440.93,80.76 L441.82,81.06 L442.71,81.36 L443.61,81.66 L444.50,81.96 L445.39,82.26 L446.29,82.56 L447.18,82.86 L448.07,83.16 L448.97,83.46 L449.86,83.76 L450.75,84.07 L451.65,84.37 L452.54,84.68 L453.43,84.98 L454.33,85.29 L455.22,85.59 L456.11,85.90 L457.01,86.20 L457.90,86.51 L458.79,86.82 L459.69,87.13 L460.58,87.44 L461.47,87.74 L462.37,88.05 L463.26,88.36 L464.15,88.67 L465.05,88.98 L465.94,89.30 L466.83,89.61 L467.73,89.92 L468.62,90.23 L469.52,90.55 L470.41,90.86 L471.30,91.17 L472.20,91.49 L473.09,91.80 L473.98,92.12 L474.88,92.43 L475.77,92.75 L476.66,93.07 L477.56,93.38 L478.45,93.70 L479.34,94.02 L480.24,94.34 L481.13,94.66 L482.02,94.98 L482.92,95.30 L483.81,95.62 L484.70,95.94 L485.60,96.26 L486.49,96.58 L487.38,96.90 L488.28,97.22 L489.17,97.55 L490.06,97.87 L490.96,98.19 L491.85,98.52 L492.74,98.84 L493.64,99.17 L494.53,99.49 L495.42,99.82 L496.32,100.14 L497.21,100.47 L498.10,100.80 L499.00,101.12 L499.89,101.45 L500.78,101.78 L501.68,102.11 L502.57,102.43 L503.46,102.76 L504.36,103.09 L505.25,103.42 L506.14,103.75 L507.04,104.08 L507.93,104.41 L508.82,104.74 L509.72,105.08 L510.61,105.41 L511.50,105.74 L512.40,106.07 L513.29,106.41 L514.18,106.74 L515.08,107.07 L515.97,107.41 L516.86,107.74 L517.76,108.08 L518.65,108.41 L519.54,108.75 L520.44,109.08 L521.33,109.42 L522.22,109.76 L523.12,110.09 L524.01,110.43 L524.90,110.77 L525.80,111.11 L526.69,111.44 L527.58,111.78 L528.48,112.12 L529.37,112.46 L530.26,112.80 L531.16,113.14 L532.05,113.48 L532.94,113.82 L533.84,114.16 L534.73,114.50 L535.62,114.84 L536.52,115.18 L537.41,115.53 L538.30,115.87 L539.20,116.21 L540.09,116.55 L540.98,116.90 L541.88,117.24 L542.77,117.58 L543.66,117.93 L544.56,118.27 L545.45,118.62 L546.34,118.96 L547.24,119.31 L548.13,119.65 L549.02,120.00 L549.92,120.34 L550.81,120.69 L551.70,121.04 L552.60,121.38 L553.49,121.73 L554.38,122.08 L555.28,122.42 L556.17,122.77 L557.06,123.12 L557.96,123.47 L558.85,123.82 L559.74,124.16 L560.64,124.51 L561.53,124.86 L562.42,125.21 L563.32,125.56 L564.21,125.91 L565.10,126.26 L566.00,126.61 L566.89,126.96 L567.78,127.31 L568.68,127.67 L569.57,128.02 L570.46,128.37 L571.36,128.72 L572.25,129.07 L573.14,129.43 L574.04,129.78 L574.93,130.13 L575.82,130.48 L576.72,130.84 L577.61,131.19 L578.50,131.54 L579.40,131.90 L580.29,132.25 L581.18,132.61 L582.08,132.96 L582.97,133.31 L583.86,133.67 L584.76,134.02 L585.65,134.38 L586.54,134.73 L587.44,135.09 L588.33,135.45 L589.23,135.80 L590.12,136.16 L591.01,136.51 L591.91,136.87 L592.80,137.23 L593.69,137.58 L594.59,137.94 L595.48,138.30 L596.37,138.65 L597.27,139.01 L598.16,139.37 L599.05,139.73 L599.95,140.09 L600.84,140.44 L601.73,140.80 L602.63,141.16 L603.52,141.52 L604.41,141.88 L605.31,142.24 L606.20,142.60 L607.09,142.95 L607.99,143.31 L608.88,143.67 L609.77,144.03 L610.67,144.39 L611.56,144.75 L612.45,145.11 L613.35,145.47 L614.24,145.83 L615.13,146.19 L616.03,146.55 L616.92,146.91 L617.81,147.27 L618.71,147.63 L619.60,148.00 L620.49,148.36 L621.39,148.72 L622.28,149.08 L623.17,149.44 L624.07,149.80 L624.96,150.16 L625.85,150.52 L626.75,150.89 L627.64,151.25 L628.53,151.61 L629.43,151.97 L630.32,152.33 L631.21,152.70 L632.11,153.06 L633.00,153.42 L633.89,153.78 L634.79,154.15 L635.68,154.51 L636.57,154.87 L637.47,155.23 L638.36,155.60 L639.25,155.96 L640.15,156.32 L641.04,156.69 L641.93,157.05 L642.83,157.41 L643.72,157.77 L644.61,158.14 L645.51,158.50 L646.40,158.86 L646.40,158.86" stroke="#000099" stroke-width="3.1" stroke-dasharray="5.2 4.304" stroke-dashoffset="0.4"/>
</g>
<rect x="91.2" y="12.2" width="566.0" height="350.85" fill="none" stroke="#000" stroke-width="4.3"/>
<g stroke="#000" fill="none"><path d="M101.30,363.05v-7.0M101.30,12.2v7.0" stroke-width="3.8"/><path d="M119.47,363.05v-4.0M119.47,12.2v4.0" stroke-width="3.6"/><path d="M137.64,363.05v-4.0M137.64,12.2v4.0" stroke-width="3.6"/><path d="M155.81,363.05v-4.0M155.81,12.2v4.0" stroke-width="3.6"/><path d="M173.98,363.05v-4.0M173.98,12.2v4.0" stroke-width="3.6"/><path d="M192.15,363.05v-7.0M192.15,12.2v7.0" stroke-width="3.8"/><path d="M210.32,363.05v-4.0M210.32,12.2v4.0" stroke-width="3.6"/><path d="M228.49,363.05v-4.0M228.49,12.2v4.0" stroke-width="3.6"/><path d="M246.66,363.05v-4.0M246.66,12.2v4.0" stroke-width="3.6"/><path d="M264.83,363.05v-4.0M264.83,12.2v4.0" stroke-width="3.6"/><path d="M283.00,363.05v-7.0M283.00,12.2v7.0" stroke-width="3.8"/><path d="M301.17,363.05v-4.0M301.17,12.2v4.0" stroke-width="3.6"/><path d="M319.34,363.05v-4.0M319.34,12.2v4.0" stroke-width="3.6"/><path d="M337.51,363.05v-4.0M337.51,12.2v4.0" stroke-width="3.6"/><path d="M355.68,363.05v-4.0M355.68,12.2v4.0" stroke-width="3.6"/><path d="M373.85,363.05v-7.0M373.85,12.2v7.0" stroke-width="3.8"/><path d="M392.02,363.05v-4.0M392.02,12.2v4.0" stroke-width="3.6"/><path d="M410.19,363.05v-4.0M410.19,12.2v4.0" stroke-width="3.6"/><path d="M428.36,363.05v-4.0M428.36,12.2v4.0" stroke-width="3.6"/><path d="M446.53,363.05v-4.0M446.53,12.2v4.0" stroke-width="3.6"/><path d="M464.70,363.05v-7.0M464.70,12.2v7.0" stroke-width="3.8"/><path d="M482.87,363.05v-4.0M482.87,12.2v4.0" stroke-width="3.6"/><path d="M501.04,363.05v-4.0M501.04,12.2v4.0" stroke-width="3.6"/><path d="M519.21,363.05v-4.0M519.21,12.2v4.0" stroke-width="3.6"/><path d="M537.38,363.05v-4.0M537.38,12.2v4.0" stroke-width="3.6"/><path d="M555.55,363.05v-7.0M555.55,12.2v7.0" stroke-width="3.8"/><path d="M573.72,363.05v-4.0M573.72,12.2v4.0" stroke-width="3.6"/><path d="M591.89,363.05v-4.0M591.89,12.2v4.0" stroke-width="3.6"/><path d="M610.06,363.05v-4.0M610.06,12.2v4.0" stroke-width="3.6"/><path d="M628.23,363.05v-4.0M628.23,12.2v4.0" stroke-width="3.6"/><path d="M646.40,363.05v-7.0M646.40,12.2v7.0" stroke-width="3.8"/><path d="M91.2,356.10h6.5M657.2,356.10h-6.5" stroke-width="3.8"/><path d="M91.2,339.24h3.7M657.2,339.24h-4.1000000000000005" stroke-width="4.0"/><path d="M91.2,322.37h3.7M657.2,322.37h-4.1000000000000005" stroke-width="4.0"/><path d="M91.2,305.50h3.7M657.2,305.50h-4.1000000000000005" stroke-width="4.0"/><path d="M91.2,288.64h6.5M657.2,288.64h-6.5" stroke-width="3.8"/><path d="M91.2,271.78h3.7M657.2,271.78h-4.1000000000000005" stroke-width="4.0"/><path d="M91.2,254.91h3.7M657.2,254.91h-4.1000000000000005" stroke-width="4.0"/><path d="M91.2,238.05h3.7M657.2,238.05h-4.1000000000000005" stroke-width="4.0"/><path d="M91.2,221.18h6.5M657.2,221.18h-6.5" stroke-width="3.8"/><path d="M91.2,204.32h3.7M657.2,204.32h-4.1000000000000005" stroke-width="4.0"/><path d="M91.2,187.45h3.7M657.2,187.45h-4.1000000000000005" stroke-width="4.0"/><path d="M91.2,170.59h3.7M657.2,170.59h-4.1000000000000005" stroke-width="4.0"/><path d="M91.2,153.72h6.5M657.2,153.72h-6.5" stroke-width="3.8"/><path d="M91.2,136.86h3.7M657.2,136.86h-4.1000000000000005" stroke-width="4.0"/><path d="M91.2,119.99h3.7M657.2,119.99h-4.1000000000000005" stroke-width="4.0"/><path d="M91.2,103.12h3.7M657.2,103.12h-4.1000000000000005" stroke-width="4.0"/><path d="M91.2,86.26h6.5M657.2,86.26h-6.5" stroke-width="3.8"/><path d="M91.2,69.40h3.7M657.2,69.40h-4.1000000000000005" stroke-width="4.0"/><path d="M91.2,52.53h3.7M657.2,52.53h-4.1000000000000005" stroke-width="4.0"/><path d="M91.2,35.67h3.7M657.2,35.67h-4.1000000000000005" stroke-width="4.0"/><path d="M91.2,18.80h6.5M657.2,18.80h-6.5" stroke-width="3.8"/></g>
<g font-family="Liberation Serif, serif" font-weight="bold" font-size="28" fill="#000" stroke="#000" stroke-width="0.35" stroke-linejoin="round" text-rendering="geometricPrecision">
<text transform="translate(101.60,397.2) scale(1.03,1.07)" text-anchor="middle">0.0</text>
<text transform="translate(192.45,397.2) scale(1.03,1.07)" text-anchor="middle">0.5</text>
<text transform="translate(283.30,397.2) scale(1.03,1.07)" text-anchor="middle">1.0</text>
<text transform="translate(374.15,397.2) scale(1.03,1.07)" text-anchor="middle">1.5</text>
<text transform="translate(465.00,397.2) scale(1.03,1.07)" text-anchor="middle">2.0</text>
<text transform="translate(555.85,397.2) scale(1.03,1.07)" text-anchor="middle">2.5</text>
<text transform="translate(646.70,397.2) scale(1.03,1.07)" text-anchor="middle">3.0</text>
<text transform="translate(84.6,366.10) scale(1.03,1.07)" text-anchor="end">0.0</text>
<text transform="translate(84.6,298.64) scale(1.03,1.07)" text-anchor="end">0.2</text>
<text transform="translate(84.6,231.18) scale(1.03,1.07)" text-anchor="end">0.4</text>
<text transform="translate(84.6,163.72) scale(1.03,1.07)" text-anchor="end">0.6</text>
<text transform="translate(84.6,96.26) scale(1.03,1.07)" text-anchor="end">0.8</text>
<text transform="translate(84.6,28.80) scale(1.03,1.07)" text-anchor="end">1.0</text>
<text transform="translate(374.0,446.4) scale(1.01,1.06)" text-anchor="middle">ΔT</text>
<text transform="translate(28.7,187.6) rotate(-90) scale(1.075,1.115)" text-anchor="middle">Q</text>
</g>
</svg>
</body></html>
